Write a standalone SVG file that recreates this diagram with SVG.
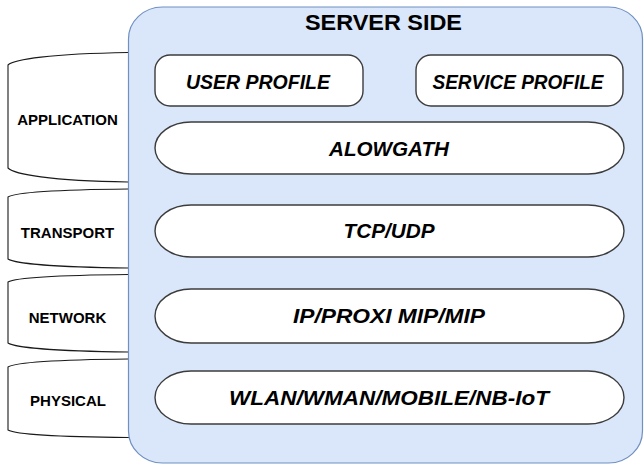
<svg xmlns="http://www.w3.org/2000/svg" width="644" height="466" viewBox="0 0 644 466">
<style>
.layer{fill:#ffffff;stroke:#1a1a1a;stroke-width:1.1}
.lbl{font-family:"Liberation Sans",Arial,sans-serif;font-weight:bold;font-size:15px;fill:#000;text-anchor:middle}
.srv{fill:#dae7fa;stroke:#7090c0;stroke-width:1.2}
.box{fill:#ffffff;stroke:#3c3c3c;stroke-width:1.4}
.t{font-family:"Liberation Sans",Arial,sans-serif;font-weight:bold;font-style:italic;font-size:20px;fill:#000;text-anchor:middle}
.title{font-family:"Liberation Sans",Arial,sans-serif;font-weight:bold;font-size:22px;fill:#000;text-anchor:middle}
</style>
<rect width="644" height="466" fill="#ffffff"/>
<g id="layer-application">
<path class="layer" d="M8,65 C14,59.4 50,53.8 128,52.5 L140,52.5 L140,182 L128,182 C50,180.6 14,174.3 8,168 Z"/>
<text class="lbl" x="67.5" y="125">APPLICATION</text>
</g>
<g id="layer-transport">
<path class="layer" d="M8,197 C14,193.4 50,189.8 128,189 L140,189 L140,268 L128,268 C50,267.1 14,263 8,259 Z"/>
<text class="lbl" x="67.5" y="238">TRANSPORT</text>
</g>
<g id="layer-network">
<path class="layer" d="M8,282 C14,278.6 50,275.3 128,274.5 L140,274.5 L140,352 L128,352 C50,351.1 14,347 8,343 Z"/>
<text class="lbl" x="67.5" y="323">NETWORK</text>
</g>
<g id="layer-physical">
<path class="layer" d="M8,367 C14,363.4 50,359.8 128,359 L140,359 L140,437.5 L128,437.5 C50,436.8 14,433.4 8,430 Z"/>
<text class="lbl" x="68" y="406">PHYSICAL</text>
</g>
<g id="server-side">
<rect class="srv" x="128.5" y="7" width="514" height="456" rx="34" ry="32"/>
<text class="title" x="383.5" y="30" textLength="157" lengthAdjust="spacingAndGlyphs">SERVER SIDE</text>
</g>
<g id="user-profile">
<rect class="box" x="155" y="55" width="208" height="51" rx="15" ry="15"/>
<text class="t" x="258" y="88.5" textLength="144" lengthAdjust="spacingAndGlyphs">USER PROFILE</text>
</g>
<g id="service-profile">
<rect class="box" x="416" y="55" width="207" height="51" rx="15" ry="15"/>
<text class="t" x="518" y="88.5" textLength="171" lengthAdjust="spacingAndGlyphs">SERVICE PROFILE</text>
</g>
<g id="alowgath">
<rect class="box" x="155" y="122" width="469" height="52" rx="36" ry="26"/>
<text class="t" x="389" y="155.5" textLength="120" lengthAdjust="spacingAndGlyphs">ALOWGATH</text>
</g>
<g id="tcp-udp">
<rect class="box" x="155" y="205" width="469" height="52" rx="36" ry="26"/>
<text class="t" x="389" y="238" textLength="91" lengthAdjust="spacingAndGlyphs">TCP/UDP</text>
</g>
<g id="ip">
<rect class="box" x="155" y="289" width="469" height="54" rx="36" ry="27"/>
<text class="t" x="389" y="323" textLength="192" lengthAdjust="spacingAndGlyphs">IP/PROXI MIP/MIP</text>
</g>
<g id="wlan">
<rect class="box" x="155" y="371" width="469" height="53" rx="36" ry="26.5"/>
<text class="t" x="389" y="404.5" textLength="320" lengthAdjust="spacingAndGlyphs">WLAN/WMAN/MOBILE/NB-IoT</text>
</g>
<g id="connectors"/>
</svg>
